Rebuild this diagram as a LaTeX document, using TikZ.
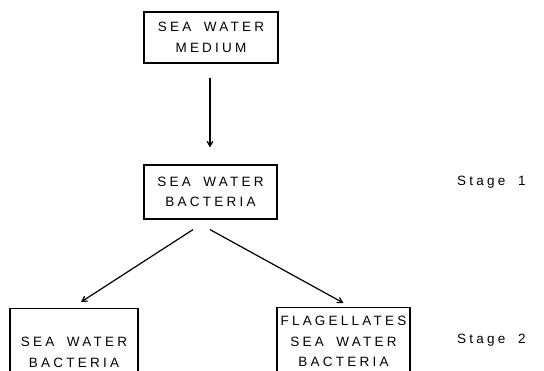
\documentclass[tikz,border=0pt]{standalone}
\usepackage{fontspec}
\setmainfont{Liberation Sans}[LetterSpace=24, WordSpace=1.8]
\usetikzlibrary{arrows}

\begin{document}
\begin{tikzpicture}[x=1pt, y=-1pt, >=angle 60,
    box/.style = {draw, line width=1.2pt, align=center, inner sep=0pt,
                  font=\fontsize{13.5}{20.5}\selectfont},
    stage/.style = {anchor=west, inner sep=0pt, font=\fontsize{13.5}{15}\selectfont}]
  \useasboundingbox (0,0) rectangle (544,371);
  \node[box, minimum width=134, minimum height=51] (med) at (211,37.5) {SEA WATER\\MEDIUM};
  \node[box, minimum width=133, minimum height=54] (bac) at (210.5,192) {SEA WATER\\BACTERIA};
  \node[box, anchor=north, minimum width=128, minimum height=88] (bacb) at (74,308) {SEA WATER\\BACTERIA};
  \node[box, anchor=north, minimum width=133, minimum height=68] (flag) at (343.5,307) {FLAGELLATES\\SEA WATER\\BACTERIA};
  \node[stage] (st1) at (457,182) {Stage 1};
  \node[stage] (st2) at (457,340) {Stage 2};
  \path[->, line width=1.2pt]
    ([xshift=-1, yshift=-14]med.south) edge ([xshift=-0.5, yshift=17]bac.north)
    ([xshift=-17.5, yshift=-10]bac.south) edge ([xshift=7, yshift=6]bacb.north)
    ([xshift=-0.5, yshift=-10]bac.south) edge ([yshift=4]flag.north);
\end{tikzpicture}
\end{document}
